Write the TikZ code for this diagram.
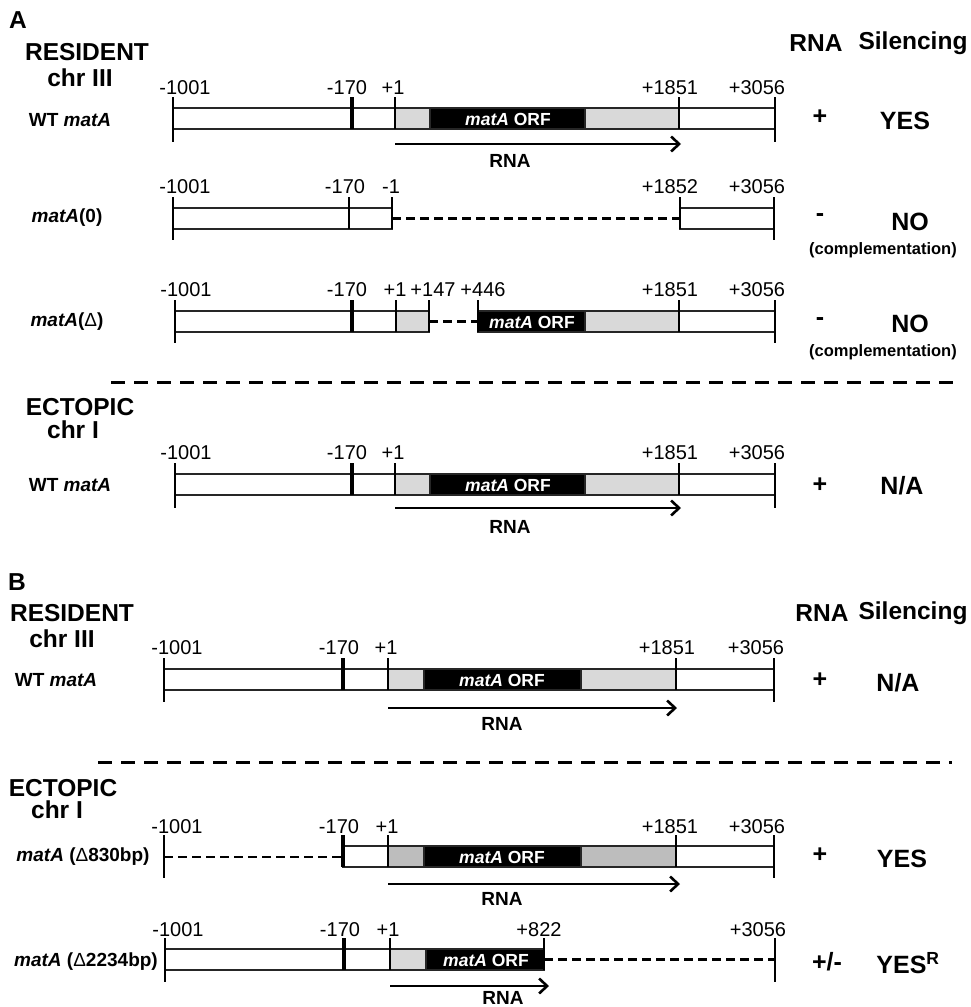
\documentclass[tikz,border=0pt]{standalone}
\usepackage{fontspec}
\setmainfont{Liberation Sans}
\usetikzlibrary{arrows.meta}
\definecolor{lg}{gray}{0.85}
\definecolor{dg}{gray}{0.74}
\newcommand\fsz[1]{\fontsize{#1}{#1}\selectfont}
\newcommand\seg[4]{\draw[boxl,fill=#4] (#1,#3) rectangle (#2,{#3+21});}
\tikzset{
  boxl/.style={draw=black!85,line width=1.9pt},
  endtick/.style={line width=2.8pt},
  midtick/.style={line width=2.5pt},
  thicktick/.style={line width=3.4pt},
  deletion/.style={line width=2.8pt,dash pattern=on 9pt off 5pt},
  sepline/.style={line width=3pt,dash pattern=on 14pt off 9pt},
  num/.style={font=\fsz{20},inner sep=0pt},
  rowlab/.style={font=\bfseries\fsz{19},inner sep=0pt},
  orf/.style={font=\bfseries\fsz{17.5},text=white,inner sep=0pt},
  rnalab/.style={font=\bfseries\fsz{19},inner sep=0pt},
  big/.style={font=\bfseries\fsz{24.5},inner sep=0pt},
  res/.style={font=\bfseries\fsz{25},inner sep=0pt},
  compl/.style={font=\bfseries\fsz{16.5},inner sep=0pt},
  title/.style={font=\bfseries\fsz{24.5},inner sep=0pt,align=center},
  rnaarrow/.style={line width=2.6pt,-{Straight Barb[length=8pt,width=15pt,line width=2.6pt]}},
}
\begin{document}
\begin{tikzpicture}[x=1pt,y=-1pt]
\useasboundingbox (0,0) rectangle (971,1007);

% ---------------- Panel A ----------------
\node[big] (A) at (18,20) {A};
\node[title] (resA) at (87,52) {RESIDENT};
\node[title] (chrA) at (80,78) {chr III};
\node[big] (rnaA) at (816,43) {RNA};
\node[big] (silA) at (913,43) {Silencing};

% Row A1: WT matA (T=108)
\seg{173}{395}{108}{white}
\seg{395}{430}{108}{lg}
\seg{430}{585}{108}{black}
\seg{585}{679}{108}{lg}
\seg{679}{775}{108}{white}
\draw[endtick] (173,97) -- (173,142);
\draw[endtick] (775,97) -- (775,142);
\draw[thicktick] (352,97) -- (352,129);
\draw[midtick] (395,97) -- (395,129);
\draw[midtick] (679,97) -- (679,129);
\node[orf] (orfA1) at (508,119) {\itshape matA\upshape{} ORF};
\node[num] at (185,88) {-1001};
\node[num] at (347,88) {-170};
\node[num] at (393,88) {+1};
\node[num] at (670,88) {+1851};
\node[num] at (757,88) {+3056};
\coordinate (a1s) at (395,144);
\coordinate (a1e) at (681,144);
\draw[rnaarrow] (a1s) -- (a1e);
\node[rnalab] at (510,161) {RNA};
\node[rowlab] at (70,120) {WT \itshape matA};
\node[res] at (820,117) {+};
\node[res] at (905,121) {YES};

% Row A2: matA(0) (T=208)
\seg{173}{392}{208}{white}
\seg{680}{774}{208}{white}
\coordinate (a2l) at (392,218.5);
\coordinate (a2r) at (680,218.5);
\draw[deletion] (a2l) -- (a2r);
\draw[endtick] (173,197) -- (173,240);
\draw[endtick] (774,197) -- (774,240);
\draw[midtick] (349,197) -- (349,229);
\draw[midtick] (392,197) -- (392,229);
\draw[midtick] (680,197) -- (680,229);
\node[num] at (185,187) {-1001};
\node[num] at (345,187) {-170};
\node[num] at (391,187) {-1};
\node[num] at (670,187) {+1852};
\node[num] at (757,187) {+3056};
\node[rowlab] at (67,218) {\itshape matA\upshape(0)};
\node[res] at (820,218) {-};
\node[res] at (910,222) {NO};
\node[compl] at (883,250) {(complementation)};

% Row A3: matA(Delta) (T=311)
\seg{175}{396}{311}{white}
\seg{396}{429}{311}{lg}
\seg{478}{585}{311}{black}
\seg{585}{679}{311}{lg}
\seg{679}{775}{311}{white}
\coordinate (a3l) at (429,321.5);
\coordinate (a3r) at (478,321.5);
\draw[deletion] (a3l) -- (a3r);
\draw[endtick] (175,300) -- (175,343);
\draw[endtick] (775,300) -- (775,343);
\draw[thicktick] (352,300) -- (352,332);
\draw[midtick] (396,300) -- (396,332);
\draw[midtick] (429,300) -- (429,332);
\draw[midtick] (478,300) -- (478,332);
\draw[midtick] (679,300) -- (679,332);
\node[orf] at (532,322) {\itshape matA\upshape{} ORF};
\node[num] at (186,290) {-1001};
\node[num] at (347,290) {-170};
\node[num] at (395,290) {+1};
\node[num] at (433,290) {+147};
\node[num] at (483,290) {+446};
\node[num] at (670,290) {+1851};
\node[num] at (757,290) {+3056};
\node[rowlab] at (67,322) {\itshape matA\upshape({\mdseries Δ})};
\node[res] at (820,322) {-};
\node[res] at (910,324) {NO};
\node[compl] at (883,352) {(complementation)};

% separator A
\coordinate (sepAl) at (111,382);
\coordinate (sepAr) at (962,382);
\draw[sepline] (sepAl) -- (sepAr);

\node[title] (ectA) at (80,407) {ECTOPIC};
\node[title] (chrIA) at (73,430) {chr I};

% Row A4: ectopic WT matA (T=474)
\seg{175}{395}{474}{white}
\seg{395}{430}{474}{lg}
\seg{430}{585}{474}{black}
\seg{585}{679}{474}{lg}
\seg{679}{775}{474}{white}
\draw[endtick] (175,463) -- (175,508);
\draw[endtick] (775,463) -- (775,508);
\draw[thicktick] (352,463) -- (352,495);
\draw[midtick] (395,463) -- (395,495);
\draw[midtick] (679,463) -- (679,495);
\node[orf] at (508,485) {\itshape matA\upshape{} ORF};
\node[num] at (186,453) {-1001};
\node[num] at (347,453) {-170};
\node[num] at (393,453) {+1};
\node[num] at (670,453) {+1851};
\node[num] at (757,453) {+3056};
\coordinate (a4s) at (395,508);
\coordinate (a4e) at (681,508);
\draw[rnaarrow] (a4s) -- (a4e);
\node[rnalab] at (510,527) {RNA};
\node[rowlab] at (70,485) {WT \itshape matA};
\node[res] at (820,485) {+};
\node[res] at (902,486) {N/A};

% ---------------- Panel B ----------------
\node[big] (B) at (17,582) {B};
\node[title] (resB) at (72,613) {RESIDENT};
\node[title] (chrB) at (62,639) {chr III};
\node[big] (rnaB) at (822,613) {RNA};
\node[big] (silB) at (913,613) {Silencing};

% Row B1 (T=669)
\seg{164}{388}{669}{white}
\seg{388}{424}{669}{lg}
\seg{424}{581}{669}{black}
\seg{581}{676}{669}{lg}
\seg{676}{774}{669}{white}
\draw[endtick] (164,658) -- (164,702);
\draw[endtick] (774,658) -- (774,702);
\draw[thicktick] (343,658) -- (343,690);
\draw[midtick] (388,658) -- (388,690);
\draw[midtick] (676,658) -- (676,690);
\node[orf] at (502,680) {\itshape matA\upshape{} ORF};
\node[num] at (177,648) {-1001};
\node[num] at (339,648) {-170};
\node[num] at (386,648) {+1};
\node[num] at (667,648) {+1851};
\node[num] at (756,648) {+3056};
\coordinate (b1s) at (388,708);
\coordinate (b1e) at (677,708);
\draw[rnaarrow] (b1s) -- (b1e);
\node[rnalab] at (502,724) {RNA};
\node[rowlab] at (56,680) {WT \itshape matA};
\node[res] at (820,680) {+};
\node[res] at (898,683) {N/A};

% separator B
\coordinate (sepBl) at (98,762);
\coordinate (sepBr) at (952,762);
\draw[sepline] (sepBl) -- (sepBr);

\node[title] (ectB) at (63,788) {ECTOPIC};
\node[title] (chrIB) at (57,810) {chr I};

% Row B2: matA (Delta830bp) (T=846)
\coordinate (b2l) at (164,857);
\coordinate (b2r) at (343,857);
\draw[deletion] (b2l) -- (b2r);
\seg{343}{388}{846}{white}
\seg{388}{424}{846}{dg}
\seg{424}{581}{846}{black}
\seg{581}{676}{846}{dg}
\seg{676}{774}{846}{white}
\draw[endtick] (164,835) -- (164,878);
\draw[endtick] (774,835) -- (774,878);
\draw[thicktick] (343,835) -- (343,867);
\draw[midtick] (388,835) -- (388,867);
\draw[midtick] (676,835) -- (676,867);
\node[orf] at (502,857) {\itshape matA\upshape{} ORF};
\node[num] at (177,827) {-1001};
\node[num] at (339,827) {-170};
\node[num] at (387,827) {+1};
\node[num] at (670,827) {+1851};
\node[num] at (757,827) {+3056};
\coordinate (b2s) at (388,884);
\coordinate (b2e) at (680,884);
\draw[rnaarrow] (b2s) -- (b2e);
\node[rnalab] at (502,899) {RNA};
\node[rowlab] at (83,857) {\itshape matA\upshape{} ({\mdseries Δ}830bp)};
\node[res] at (820,855) {+};
\node[res] at (902,859) {YES};

% Row B3: matA (Delta2234bp) (T=949)
\seg{165}{390}{949}{white}
\seg{390}{426}{949}{lg}
\seg{426}{544}{949}{black}
\coordinate (b3l) at (544,959.5);
\coordinate (b3r) at (775,959.5);
\draw[deletion] (b3l) -- (b3r);
\draw[endtick] (165,938) -- (165,982);
\draw[endtick] (775,938) -- (775,982);
\draw[thicktick] (344,938) -- (344,970);
\draw[midtick] (390,938) -- (390,970);
\draw[midtick] (544,938) -- (544,970);
\node[orf] at (486,960) {\itshape matA\upshape{} ORF};
\node[num] at (178,930) {-1001};
\node[num] at (340,930) {-170};
\node[num] at (388,930) {+1};
\node[num] at (539,930) {+822};
\node[num] at (758,930) {+3056};
\coordinate (b3s) at (390,986);
\coordinate (b3e) at (549,986);
\draw[rnaarrow] (b3s) -- (b3e);
\node[rnalab] at (503,997.5) {RNA};
\node[rowlab] at (86,962) {\itshape matA\upshape{} ({\mdseries Δ}2234bp)};
\node[res] at (827,962) {+/-};
\node[res] at (908,963) {YES\textsuperscript{R}};
\end{tikzpicture}
\end{document}
